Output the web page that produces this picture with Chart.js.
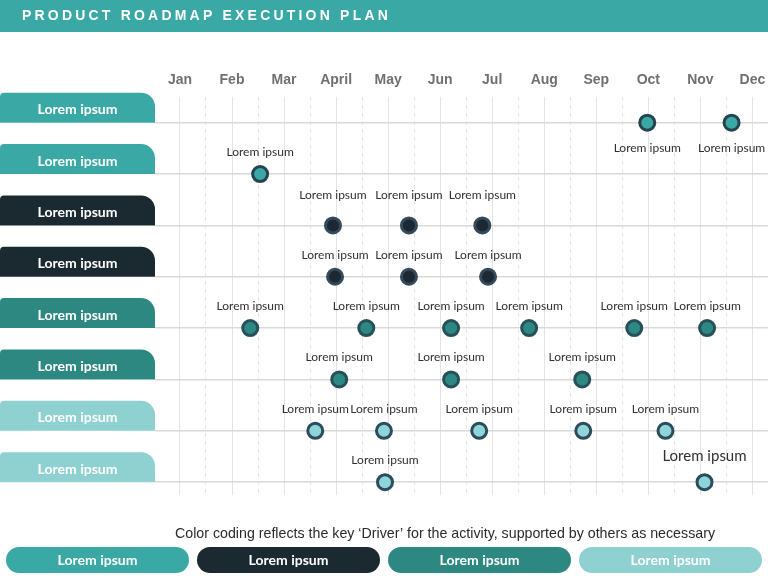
<!DOCTYPE html>
<html>
<head>
<meta charset="utf-8">
<title>Product Roadmap Execution Plan</title>
<script src="https://cdn.jsdelivr.net/npm/chart.js@4.4.1/dist/chart.umd.min.js"></script>
<style>
  html, body { margin: 0; padding: 0; background: #fff; }
  #wrap { width: 768px; height: 576px; }
</style>
</head>
<body>
<div id="wrap"><canvas id="roadmap" width="768" height="576"></canvas></div>
<script>
const months = ["Jan", "Feb", "Mar", "April", "May", "Jun", "Jul", "Aug", "Sep", "Oct", "Nov", "Dec"];
const rowNames = ["Lorem ipsum", "Lorem ipsum", "Lorem ipsum", "Lorem ipsum",
                  "Lorem ipsum", "Lorem ipsum", "Lorem ipsum", "Lorem ipsum"];
const driverNames = ["Lorem ipsum", "Lorem ipsum", "Lorem ipsum", "Lorem ipsum"];
const rowDriver = [0, 0, 1, 1, 2, 2, 3, 3]; // which driver colour each row uses
const milestoneLabel = "Lorem ipsum";
const footnote = "Color coding reflects the key \u2018Driver\u2019 for the activity, supported by others as necessary";

// milestone positions per row, in months (0 = Jan)
const row1 = [8.98, 10.6];
const row2 = [1.54];
const row3 = [2.94, 4.4, 5.81];
const row4 = [2.98, 4.4, 5.92];
const row5 = [1.35, 3.58, 5.21, 6.71, 8.73, 10.13];
const row6 = [3.06, 5.21, 7.73];
const row7 = [2.6, 3.92, 5.75, 7.75, 9.33];
const row8 = [3.94, 10.08];

const driverColors = ["#3aa9a5", "#1b2931", "#2e8882", "#8fd1d1"];
const pointFill = ["#3aa9a5", "#1c2832", "#2e8882", "#8ed4d8"];
const pointBorder = ["#26444f", "#34495a", "#26505a", "#2b4c5c"];

const rows = [row1, row2, row3, row4, row5, row6, row7, row8];

const datasets = rows.map((vals, i) => ({
  label: rowNames[i],
  data: vals.map((v) => ({ x: v, y: i })),
  pointRadius: 7.5,
  pointHoverRadius: 7.5,
  pointBackgroundColor: pointFill[rowDriver[i]],
  pointBorderColor: pointBorder[rowDriver[i]],
  pointBorderWidth: 3,
  pointHoverBorderWidth: 3,
  showLine: false,
  labelBelow: i === 0,
  labelGap: i === 0 ? 25 : i === 2 ? 30 : 22,
  labelSizes: i === 7 ? [12, 15] : null,
}));

// title bar, row tabs, footnote and driver pills
const roadmapDecor = {
  id: "roadmapDecor",
  beforeDraw(chart) {
    const { ctx, width, chartArea, scales } = chart;
    ctx.save();
    ctx.fillStyle = "#3aa9a5";
    ctx.fillRect(0, 0, width, 32);
    ctx.fillStyle = "#fff";
    ctx.font = 'bold 14px "Liberation Sans", Arial, sans-serif';
    ctx.letterSpacing = "3.2px";
    ctx.textBaseline = "middle";
    ctx.textAlign = "left";
    ctx.fillText("PRODUCT ROADMAP EXECUTION PLAN", 22, 16);
    ctx.letterSpacing = "0px";

    rowNames.forEach((name, i) => {
      const bottom = scales.y.getPixelForValue(i);
      ctx.fillStyle = driverColors[rowDriver[i]];
      ctx.beginPath();
      ctx.roundRect(0, bottom - 30, chartArea.left, 30, [4, 14, 0, 0]);
      ctx.fill();
      ctx.fillStyle = "#fff";
      ctx.font = "bold 14px Lato, sans-serif";
      ctx.textAlign = "center";
      ctx.fillText(name, chartArea.left / 2, bottom - 13);
    });
    ctx.restore();
  },
  afterDraw(chart) {
    const { ctx, width, height, chartArea } = chart;
    ctx.save();
    ctx.fillStyle = "#2b2b2b";
    ctx.font = '15px "Liberation Sans", Arial, sans-serif';
    ctx.textAlign = "center";
    ctx.textBaseline = "middle";
    ctx.fillText(footnote, 445, chartArea.bottom + 39, 540);

    const gap = 8, left = 6;
    const w = (width - 2 * left - 3 * gap) / 4;
    driverNames.forEach((name, i) => {
      const x = left + i * (w + gap);
      ctx.fillStyle = driverColors[i];
      ctx.beginPath();
      ctx.roundRect(x, height - 29, w, 26, 13);
      ctx.fill();
      ctx.fillStyle = "#fff";
      ctx.font = "bold 14px Lato, sans-serif";
      ctx.fillText(name, x + w / 2, height - 15.5);
    });
    ctx.restore();
  },
};

// "Lorem ipsum" text next to each milestone
const milestoneLabels = {
  id: "milestoneLabels",
  afterDatasetsDraw(chart) {
    const { ctx } = chart;
    ctx.save();
    ctx.fillStyle = "#303030";
    ctx.textAlign = "center";
    ctx.textBaseline = "middle";
    chart.data.datasets.forEach((ds, i) => {
      chart.getDatasetMeta(i).data.forEach((pt, j) => {
        const size = ds.labelSizes ? ds.labelSizes[j] : 12;
        ctx.font = `${size}px Lato, sans-serif`;
        const gap = ds.labelGap + (size - 12) * 1.5;
        ctx.fillText(milestoneLabel, pt.x, ds.labelBelow ? pt.y + gap : pt.y - gap);
      });
    });
    ctx.restore();
  },
};

new Chart(document.getElementById("roadmap"), {
  type: "scatter",
  data: { datasets },
  options: {
    responsive: false,
    animation: false,
    layout: { autoPadding: false, padding: { top: 63, left: 155, right: 0, bottom: 81 } },
    plugins: {
      legend: { display: false },
      tooltip: { enabled: false },
    },
    scales: {
      x: {
        type: "linear",
        position: "top",
        min: -0.48,
        max: 11.3,
        afterBuildTicks: (s) => { s.ticks = months.map((m, i) => ({ value: i })); },
        ticks: {
          callback: (v) => months[v],
          color: "#707070",
          // tall line height keeps the month names clear of the grid without extra side padding
          font: { family: '"Liberation Sans", Arial, sans-serif', size: 14, weight: "bold", lineHeight: "34px" },
          padding: 0,
          maxRotation: 0,
          autoSkip: false,
        },
        grid: { color: "#e3e3e3", lineWidth: 1, drawTicks: false },
        border: { display: false },
      },
      xHalf: {
        type: "linear",
        position: "top",
        min: -0.48,
        max: 11.3,
        afterBuildTicks: (s) => { s.ticks = months.slice(0, 11).map((m, i) => ({ value: i + 0.5 })); },
        ticks: { display: false },
        grid: { color: "#e6e6e6", lineWidth: 1, drawTicks: false },
        border: { display: false, dash: [4, 4] },
      },
      y: {
        type: "linear",
        reverse: true,
        min: -0.5,
        max: 7.25,
        afterBuildTicks: (s) => { s.ticks = rowNames.map((n, i) => ({ value: i })); },
        ticks: { display: false },
        grid: { color: "#d9d9d9", lineWidth: 1.5, drawTicks: false },
        border: { display: false },
      },
    },
  },
  plugins: [roadmapDecor, milestoneLabels],
});
</script>
</body>
</html>
